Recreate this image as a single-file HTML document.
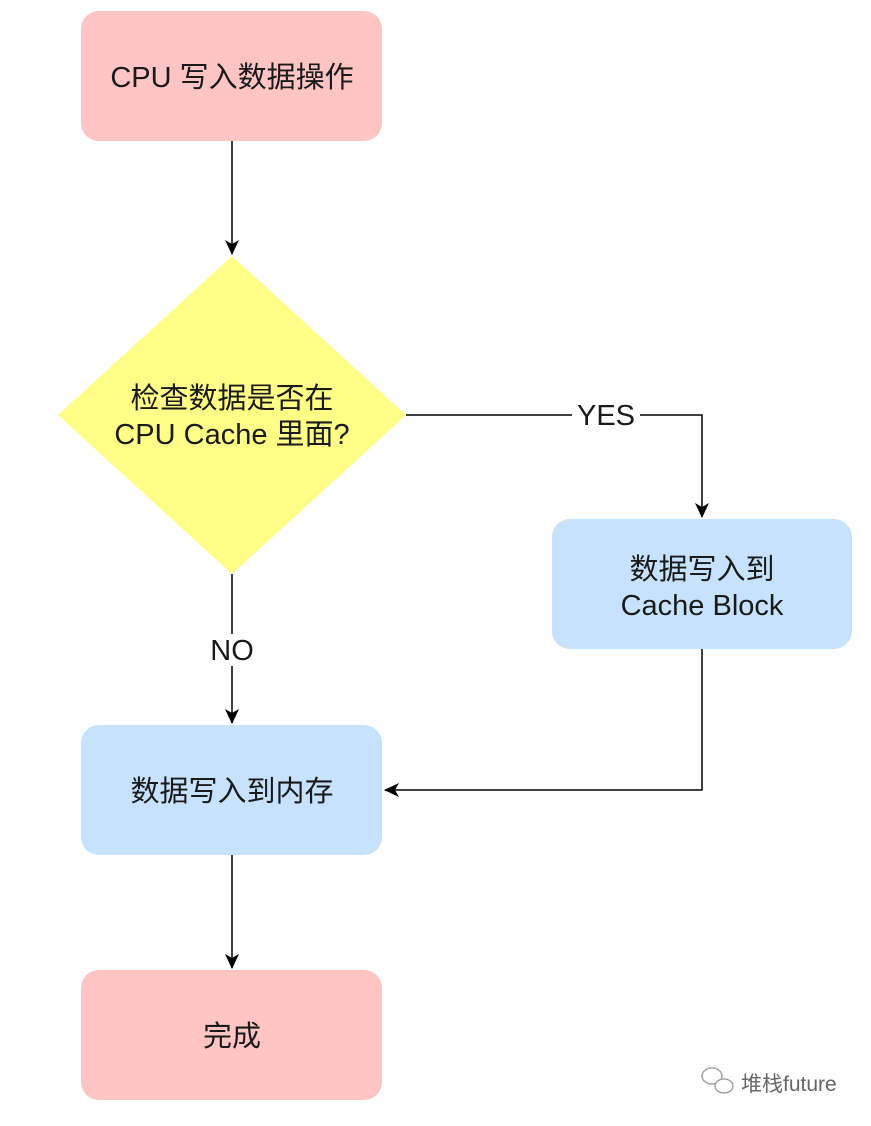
<!DOCTYPE html>
<html><head><meta charset="utf-8"><style>
body{margin:0;background:#fff;width:871px;height:1121px;overflow:hidden}
svg text{font-family:"Liberation Sans","Noto Sans CJK SC",sans-serif;fill:#1a1a1a}
</style></head><body>
<svg width="871" height="1121" xmlns="http://www.w3.org/2000/svg">
<defs><marker id="a" markerWidth="16" markerHeight="16" refX="14" refY="8" orient="auto" markerUnits="userSpaceOnUse"><path d="M0,1 L15,8 L0,15 L4,8z" fill="#000"/></marker></defs>
<g stroke="#000" stroke-width="1.5" fill="none">
<line x1="232" y1="141" x2="232" y2="254" marker-end="url(#a)"/>
<polyline points="406,415 702,415 702,517" marker-end="url(#a)"/>
<line x1="232" y1="574" x2="232" y2="723" marker-end="url(#a)"/>
<polyline points="702,649 702,790 385,790" marker-end="url(#a)"/>
<line x1="232" y1="855" x2="232" y2="968" marker-end="url(#a)"/>
</g>
<rect x="81" y="11" width="301" height="130" rx="18" fill="#ffc4c4"/>
<polygon points="232,256 406,415 232,574 58,415" fill="#ffff88"/>
<rect x="552" y="519" width="300" height="130" rx="18" fill="#c6e2fc"/>
<rect x="81" y="725" width="301" height="130" rx="18" fill="#c6e2fc"/>
<rect x="81" y="970" width="301" height="130" rx="18" fill="#ffc4c4"/>
<rect x="572" y="400" width="68" height="30" fill="#fff"/>
<rect x="204" y="634" width="56" height="32" fill="#fff"/>
<g font-size="29" text-anchor="middle">
<text x="232" y="87">CPU 写入数据操作</text>
<text x="232" y="408">检查数据是否在</text>
<text x="232" y="444">CPU Cache 里面?</text>
<text x="606" y="425">YES</text>
<text x="232" y="660">NO</text>
<text x="702" y="579">数据写入到</text>
<text x="702" y="615">Cache Block</text>
<text x="232" y="801">数据写入到内存</text>
<text x="232" y="1046">完成</text>
</g>
<g fill="none" stroke="#999" stroke-width="1.3">
<ellipse cx="712" cy="1076" rx="10" ry="8"/>
<ellipse cx="724" cy="1086" rx="9" ry="7" fill="#fff"/>
</g>
<text x="741" y="1091" font-size="21" style="fill:#666">堆栈future</text>
</svg>
</body></html>
